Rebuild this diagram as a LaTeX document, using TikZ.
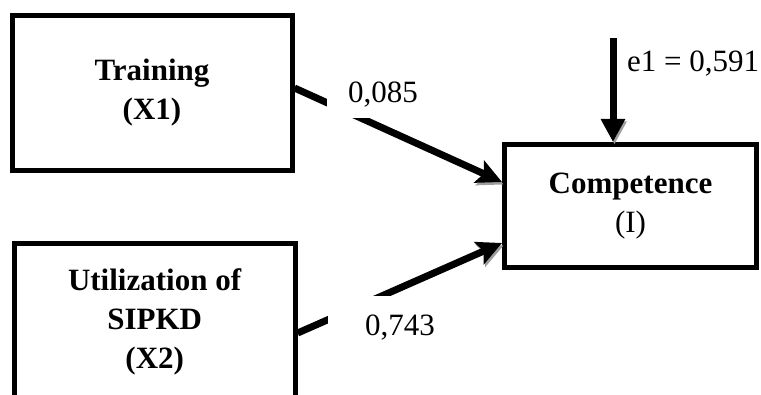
\documentclass[tikz,border=0pt]{standalone}
\usepackage{fontspec}
\setmainfont{Liberation Serif}
\usetikzlibrary{arrows.meta,calc}
\begin{document}
\begin{tikzpicture}[x=1pt,y=1pt,
  box/.style={draw, line width=5pt, align=center, inner sep=0pt, font=\fontsize{31}{39}\selectfont},
  lab/.style={fill=white, inner ysep=0pt, font=\fontsize{31}{39}\selectfont},
  conn/.style={line width=7pt, -{Stealth[length=25pt,width=24pt,inset=5pt]},
    preaction={draw=black!38, transform canvas={shift={(1.5pt,-2.5pt)}}}},
  econn/.style={line width=7pt, -{Triangle[length=23pt,width=23pt]},
    preaction={draw=black!38, transform canvas={shift={(1.5pt,-2.5pt)}}}}
]
\useasboundingbox (0,0) rectangle (761,394);
\clip (0,0) rectangle (761,394);

\node[box, minimum width=280, minimum height=155] (tr) at (152,301) {\textbf{Training}\\\textbf{(X1)}};
\node[box, minimum width=281, minimum height=156] (sp) at (154.7,72) {\textbf{Utilization of}\\\textbf{SIPKD}\\\textbf{(X2)}};
\node[box, minimum width=252, minimum height=123] (cp) at (630.5,188) {\textbf{Competence}\\(I)};

\coordinate (etop) at (613,356);
\draw[econn] (etop) -- (etop |- cp.north);
\node[lab, anchor=base west, inner xsep=0pt] (el) at (627,322) {e1 = 0,591};

\draw[conn] ($(tr.east)+(0,5)$) -- ($(cp.west)+(0,24)$);
\draw[conn] ($(sp.east)+(0,-11)$) -- ($(cp.west)+(0,-37)$);

\node[lab, anchor=base west, inner xsep=21pt, text height=25pt, text depth=15pt] (l1) at (327,291) {0,085};
\node[lab, anchor=base west, inner xsep=37pt, text height=39pt, text depth=10pt] (l2) at (328,59) {0,743};
\end{tikzpicture}
\end{document}
